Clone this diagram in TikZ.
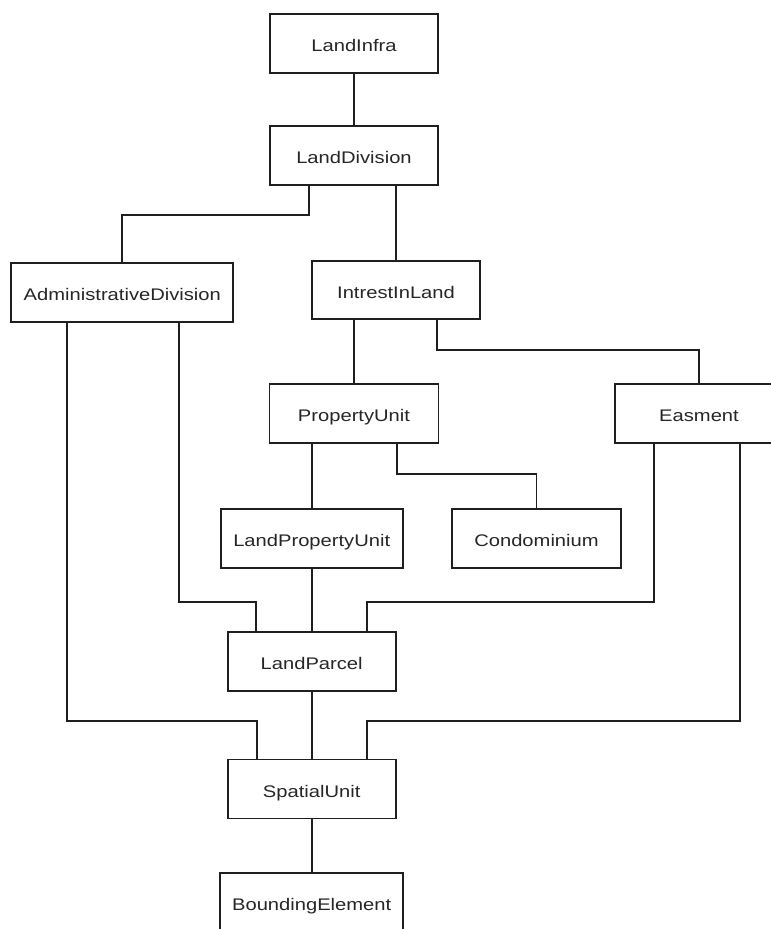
\documentclass[tikz,border=0pt]{standalone}
\usepackage{fontspec}
\setmainfont{Liberation Sans}[FakeStretch=1.2]
\begin{document}
\begin{tikzpicture}[x=1pt,y=1pt,
  box/.style={draw=black!88,line width=1.7pt,fill=white,inner sep=0pt,
    minimum height=59pt,text height=16.5pt,text depth=0pt,
    font=\fontsize{16.8}{18}\selectfont,text=black!85},
  wire/.style={draw=black!88,line width=1.7pt}]
\clip (0,0) rectangle (771,-929);
\fill[white] (0,0) rectangle (771,-929);
\node[box,minimum width=168pt] (li) at (354,-43.5) {LandInfra};
\node[box,minimum width=168pt] (ld) at (354,-155.5) {LandDivision};
\node[box,minimum width=222pt] (ad) at (122.3,-292.5) {AdministrativeDivision};
\node[box,minimum width=168pt,minimum height=58pt] (il) at (396,-290) {IntrestInLand};
\node[box,minimum width=169pt] (pu) at (354,-413.5) {PropertyUnit};
\node[box,minimum width=168pt] (ea) at (699,-413.5) {Easment};
\node[box,minimum width=182pt] (lpu) at (311.7,-538.5) {LandPropertyUnit};
\node[box,minimum width=169pt] (co) at (536.5,-538.5) {Condominium};
\node[box,minimum width=168pt] (lp) at (311.7,-661.5) {LandParcel};
\node[box,minimum width=168pt] (su) at (311.7,-789) {SpatialUnit};
\node[box,minimum width=183pt] (be) at (311.7,-902.5) {BoundingElement};
\draw[wire] (li.south) -- (ld.north);
\draw[wire] ([xshift=-45pt]ld.south) |- ([yshift=47pt]ad.north) -- (ad.north);
\draw[wire] ([xshift=42pt]ld.south) -- (il.north);
\draw[wire] ([xshift=-42pt]il.south) -- (pu.north);
\draw[wire] ([xshift=41pt]il.south) |- ([yshift=33pt]ea.north) -- (ea.north);
\draw[wire] ([xshift=-42.3pt]pu.south) -- (lpu.north);
\draw[wire] ([xshift=43pt]pu.south) |- ([yshift=34pt]co.north) -- (co.north);
\draw[wire] (lpu.south) -- (lp.north);
\draw[wire] ([xshift=57pt]ad.south) |- ([xshift=-56pt,yshift=29pt]lp.north) -- ([xshift=-56pt]lp.north);
\draw[wire] ([xshift=-45pt]ea.south) |- ([xshift=55pt,yshift=29pt]lp.north) -- ([xshift=55pt]lp.north);
\draw[wire] ([xshift=-55pt]ad.south) |- ([xshift=-55pt,yshift=38pt]su.north) -- ([xshift=-55pt]su.north);
\draw[wire] ([xshift=41pt]ea.south) |- ([xshift=55pt,yshift=38pt]su.north) -- ([xshift=55pt]su.north);
\draw[wire] (lp.south) -- (su.north);
\draw[wire] (su.south) -- (be.north);
\end{tikzpicture}
\end{document}
